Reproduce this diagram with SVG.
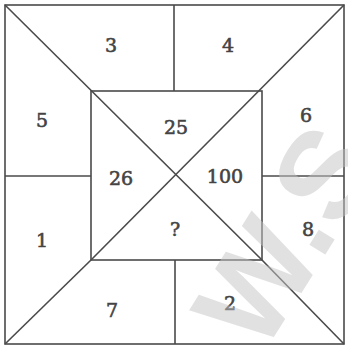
<svg xmlns="http://www.w3.org/2000/svg" width="348" height="347" viewBox="0 0 348 347">
<style>
.ln{stroke:#4a4a4a;stroke-width:1.6;fill:none}
.t{font-family:"DejaVu Serif","Liberation Serif",serif;font-size:19px;fill:#444;stroke:#444;stroke-width:0.6;text-anchor:middle}
.wm{font-family:"Liberation Sans",sans-serif;font-size:125px;font-weight:bold;fill:#c4c4c4;opacity:0.5}
</style>
<rect width="348" height="347" fill="#fff"/>
<g id="connectors">
<rect class="ln" x="5" y="5" width="339" height="339"/>
<rect class="ln" x="91" y="91" width="171" height="169"/>
<line class="ln" x1="5" y1="5" x2="262" y2="260"/>
<line class="ln" x1="344" y1="5" x2="91" y2="260"/>
<line class="ln" x1="262" y1="260" x2="344" y2="344"/>
<line class="ln" x1="91" y1="260" x2="5" y2="344"/>
<line class="ln" x1="174" y1="5" x2="174" y2="91"/>
<line class="ln" x1="175" y1="260" x2="175" y2="344"/>
<line class="ln" x1="5" y1="176" x2="91" y2="176"/>
<line class="ln" x1="262" y1="176" x2="344" y2="176"/>
</g>
<g id="labels">
<text class="t" x="111" y="52">3</text>
<text class="t" x="228" y="52">4</text>
<text class="t" x="42" y="127">5</text>
<text class="t" x="306" y="122">6</text>
<text class="t" x="176" y="134">25</text>
<text class="t" x="121" y="185">26</text>
<text class="t" x="225" y="183">100</text>
<text class="t" x="175" y="236">?</text>
<text class="t" x="42" y="247">1</text>
<text class="t" x="308" y="236">8</text>
<text class="t" x="112" y="317">7</text>
<text class="t" x="230" y="310">2</text>
</g>
<text class="wm" transform="translate(262,356) rotate(-58)">W.S</text>
</svg>
